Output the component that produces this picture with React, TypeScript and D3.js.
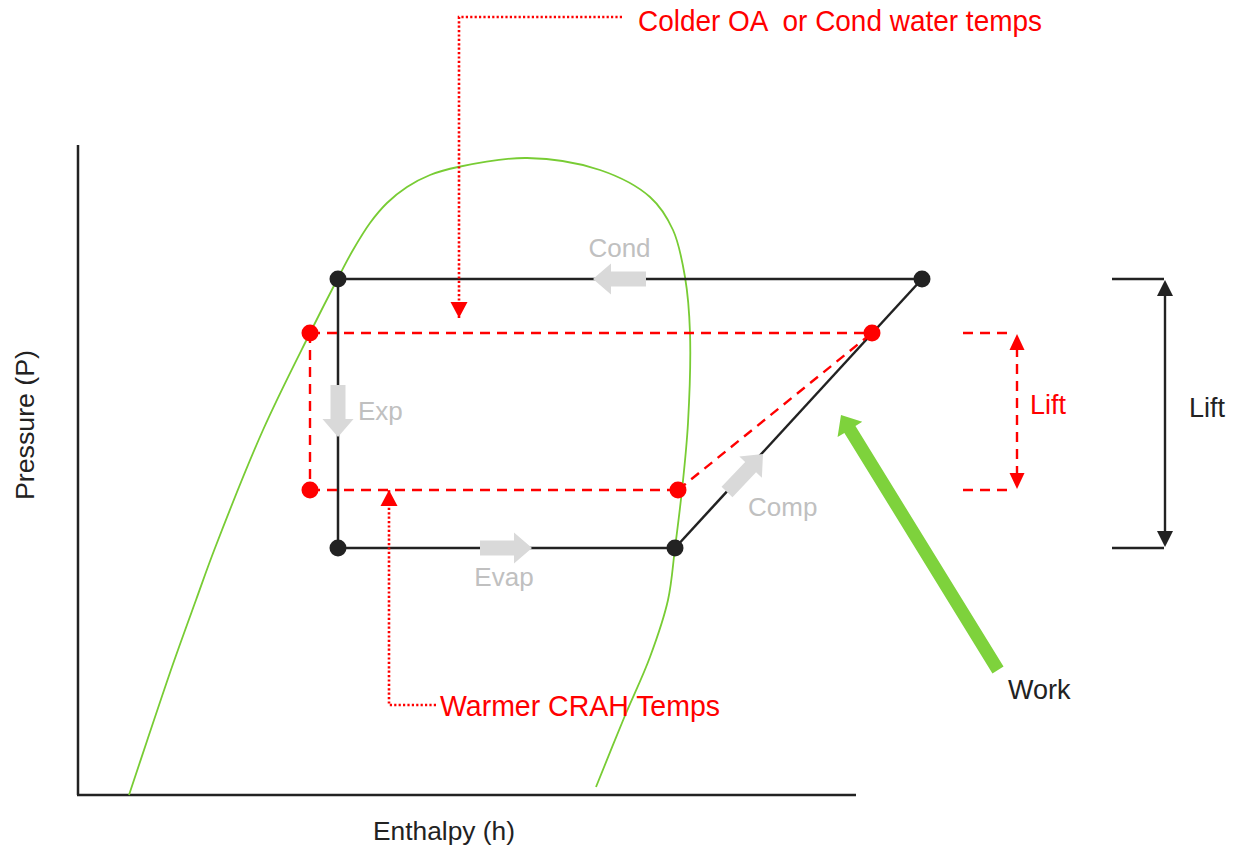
import React from "react";
import * as d3 from "d3";

// ---- Data (enthalpy units h, pressure units P) ----
const H_DOMAIN = [0, 778];
const P_DOMAIN = [0, 650];

// saturation dome (h, P)
const domeH = [51, 69, 95, 118, 137, 185, 232, 260, 275, 292, 309, 329, 352, 380, 449, 522, 572, 595, 607, 612, 610, 604, 597, 590, 572, 546, 518];
const domeP = [0, 54, 131, 195, 247, 365, 462, 517, 545, 572, 592, 608, 620, 628, 637, 625, 598, 565, 518, 462, 372, 305, 247, 195, 138, 77, 8];

// original cycle state points: condenser-in-left, condenser-out-right, evap-out, evap-in
const cycleH = [260, 844, 597, 260];
const cycleP = [516, 516, 247, 247];

// improved cycle (red)
const redH = [232, 794, 600, 232];
const redP = [462, 462, 305, 305];

// grey process arrows
const processNames = ["Cond", "Exp", "Evap", "Comp"];
const processFromH = [568, 260, 402, 649];
const processFromP = [516, 410, 247, 303];
const processToH = [515, 260, 454, 685];
const processToP = [516, 358, 247, 341];

// annotation callout polylines
const calloutTopH = [544, 381, 381];
const calloutTopP = [778, 778, 477];
const calloutBotH = [358, 311, 311];
const calloutBotP = [90, 90, 305];

// lift brackets
const liftRedH = [885, 934];
const liftBlackH = [1034, 1086];

// work arrow
const workH = [920, 763];
const workP = [125, 380];

const labels = {
  top: "Colder OA  or Cond water temps",
  bottom: "Warmer CRAH Temps",
  xAxis: "Enthalpy (h)",
  yAxis: "Pressure (P)",
  lift: "Lift",
  work: "Work",
};

const W = 1233;
const Hh = 848;

const x = d3.scaleLinear().domain(H_DOMAIN).range([78, 856]);
const y = d3.scaleLinear().domain(P_DOMAIN).range([795, 145]);

function arrowPoly(x1: number, y1: number, x2: number, y2: number, w: number, hw: number, hl: number) {
  const dx = x2 - x1, dy = y2 - y1;
  const L = Math.hypot(dx, dy);
  const ux = dx / L, uy = dy / L;
  const nx = -uy, ny = ux;
  const bx = x2 - ux * hl, by = y2 - uy * hl;
  const pts = [
    [x1 + nx * w / 2, y1 + ny * w / 2],
    [bx + nx * w / 2, by + ny * w / 2],
    [bx + nx * hw / 2, by + ny * hw / 2],
    [x2, y2],
    [bx - nx * hw / 2, by - ny * hw / 2],
    [bx - nx * w / 2, by - ny * w / 2],
    [x1 - nx * w / 2, y1 - ny * w / 2],
  ];
  return pts.map((p) => p.join(",")).join(" ");
}

function head(x2: number, y2: number, dirx: number, diry: number, hw: number, hl: number) {
  const L = Math.hypot(dirx, diry);
  const ux = dirx / L, uy = diry / L;
  const nx = -uy, ny = ux;
  const bx = x2 - ux * hl, by = y2 - uy * hl;
  return [
    [x2, y2],
    [bx + nx * hw / 2, by + ny * hw / 2],
    [bx - nx * hw / 2, by - ny * hw / 2],
  ].map((p) => p.join(",")).join(" ");
}

export default function App() {
  const domeLine = d3
    .line<number>()
    .x((_, i) => x(domeH[i]))
    .y((_, i) => y(domeP[i]))
    .curve(d3.curveCatmullRom.alpha(0.5));
  const domePath = domeLine(domeH) || "";

  const cx = cycleH.map((h) => x(h));
  const cy = cycleP.map((p) => y(p));
  const rx = redH.map((h) => x(h));
  const ry = redP.map((p) => y(p));

  const black = "#222222";
  const red = "#ff0000";
  const grey = "#d9d9d9";
  const greyText = "#c0c0c0";
  const green = "#7ed23c";
  const sans = "'Liberation Sans', Arial, sans-serif";

  const topPts = calloutTopH.map((h, i) => `${x(h)},${y(calloutTopP[i])}`).join(" ");
  const botPts = calloutBotH.map((h, i) => `${x(h)},${y(calloutBotP[i])}`).join(" ");

  const lrx0 = x(liftRedH[0]), lrx1 = x(liftRedH[1]);
  const lry0 = y(redP[0]), lry1 = y(redP[2]);
  const lbx0 = x(liftBlackH[0]), lbx1 = x(liftBlackH[1]);
  const lby0 = y(cycleP[0]), lby1 = y(cycleP[2]);

  const labelPos = [
    { dx: 0, dy: -31, anchor: "middle" },
    { dx: 20, dy: 0, anchor: "start" },
    { dx: -2, dy: 29, anchor: "middle" },
    { dx: 3, dy: 34, anchor: "start" },
  ];

  return (
    <div style={{ position: "absolute", left: 0, top: 0 }}>
      <svg width={W} height={Hh} style={{ display: "block", background: "#fff" }}>
        {/* axes */}
        <line x1={x(0)} y1={y(P_DOMAIN[1])} x2={x(0)} y2={y(0)} stroke={black} strokeWidth={2.5} />
        <line x1={x(0) - 1} y1={y(0)} x2={x(H_DOMAIN[1])} y2={y(0)} stroke={black} strokeWidth={2.5} />

        {/* dome */}
        <path d={domePath} fill="none" stroke="#78cc34" strokeWidth={1.8} />

        {/* black cycle */}
        <line x1={cx[0]} y1={cy[0]} x2={cx[1]} y2={cy[1]} stroke={black} strokeWidth={2.5} />
        <line x1={cx[1]} y1={cy[1]} x2={cx[2]} y2={cy[2]} stroke={black} strokeWidth={2.5} />
        <line x1={cx[2]} y1={cy[2]} x2={cx[3]} y2={cy[3]} stroke={black} strokeWidth={2.5} />
        <line x1={cx[3]} y1={cy[3]} x2={cx[0]} y2={cy[0]} stroke={black} strokeWidth={2.5} />

        {/* red cycle */}
        <g stroke={red} strokeWidth={2.4} strokeDasharray="10,7" fill="none">
          <line x1={rx[0]} y1={ry[0]} x2={rx[1]} y2={ry[1]} />
          <line x1={rx[2]} y1={ry[2]} x2={rx[1]} y2={ry[1]} />
          <line x1={rx[3]} y1={ry[3]} x2={rx[2]} y2={ry[2]} />
          <line x1={rx[0]} y1={ry[0]} x2={rx[3]} y2={ry[3]} />
        </g>

        {/* grey process arrows */}
        {processNames.map((n, i) => {
          const x1 = x(processFromH[i]), y1 = y(processFromP[i]);
          const x2 = x(processToH[i]), y2 = y(processToP[i]);
          const lp = labelPos[i];
          const mx = (x1 + x2) / 2, my = (y1 + y2) / 2;
          return (
            <g key={n}>
              <polygon points={arrowPoly(x1, y1, x2, y2, 15, 31, 18)} fill={grey} />
              <text
                x={mx + lp.dx}
                y={my + lp.dy}
                textAnchor={lp.anchor as any}
                dominantBaseline="central"
                fontFamily={sans}
                fontSize={26}
                fill={greyText}
              >
                {n}
              </text>
            </g>
          );
        })}

        {/* state points */}
        {cx.map((v, i) => (
          <circle key={"b" + i} cx={v} cy={cy[i]} r={8.5} fill={black} />
        ))}
        {rx.map((v, i) => (
          <circle key={"r" + i} cx={v} cy={ry[i]} r={8.5} fill={red} />
        ))}

        {/* callouts */}
        <polyline points={topPts} fill="none" stroke={red} strokeWidth={2.6} strokeDasharray="2.2,2.2" />
        <polygon points={head(x(calloutTopH[2]), y(calloutTopP[2]), 0, 1, 17, 16)} fill={red} />
        <text x={638} y={20} fontFamily={sans} fontSize={30} fill={red} dominantBaseline="central" textLength={404} lengthAdjust="spacingAndGlyphs" style={{ whiteSpace: "pre" }}>
          {labels.top}
        </text>
        <polyline points={botPts} fill="none" stroke={red} strokeWidth={2.6} strokeDasharray="2.2,2.2" />
        <polygon points={head(x(calloutBotH[2]), y(calloutBotP[2]), 0, -1, 17, 16)} fill={red} />
        <text x={440} y={705} fontFamily={sans} fontSize={30} fill={red} dominantBaseline="central" textLength={280} lengthAdjust="spacingAndGlyphs">
          {labels.bottom}
        </text>

        {/* red lift bracket */}
        <g stroke={red} strokeWidth={2.4} strokeDasharray="10,7">
          <line x1={lrx0} y1={lry0} x2={lrx1} y2={lry0} />
          <line x1={lrx0} y1={lry1} x2={lrx1} y2={lry1} />
          <line x1={lrx1 + 5} y1={lry0 + 14} x2={lrx1 + 5} y2={lry1 - 14} />
        </g>
        <polygon points={head(lrx1 + 5, lry0 + 1, 0, -1, 15, 16)} fill={red} />
        <polygon points={head(lrx1 + 5, lry1 - 1, 0, 1, 15, 16)} fill={red} />
        <text x={1030} y={405} fontFamily={sans} fontSize={27} fill={red} dominantBaseline="central">
          {labels.lift}
        </text>

        {/* black lift bracket */}
        <line x1={lbx0} y1={lby0} x2={lbx1} y2={lby0} stroke={black} strokeWidth={2.4} />
        <line x1={lbx0} y1={lby1} x2={lbx1} y2={lby1} stroke={black} strokeWidth={2.4} />
        <line x1={lbx1 + 1} y1={lby0 + 10} x2={lbx1 + 1} y2={lby1 - 10} stroke={black} strokeWidth={2.4} />
        <polygon points={head(lbx1 + 1, lby0 + 1, 0, -1, 16, 16)} fill={black} />
        <polygon points={head(lbx1 + 1, lby1 - 1, 0, 1, 16, 16)} fill={black} />
        <text x={1189} y={408} fontFamily={sans} fontSize={27} fill={black} dominantBaseline="central">
          {labels.lift}
        </text>

        {/* work arrow */}
        <polygon points={arrowPoly(x(workH[0]), y(workP[0]), x(workH[1]), y(workP[1]), 13, 29, 17)} fill={green} />
        <text x={1008} y={690} fontFamily={sans} fontSize={27} fill={black} dominantBaseline="central">
          {labels.work}
        </text>

        {/* axis titles */}
        <text x={444} y={831} fontFamily={sans} fontSize={26} fill={black} textAnchor="middle" dominantBaseline="central" textLength={142} lengthAdjust="spacingAndGlyphs">
          {labels.xAxis}
        </text>
        <text
          transform="translate(25,425) rotate(-90)"
          fontFamily={sans}
          fontSize={26}
          fill={black}
          textAnchor="middle"
          dominantBaseline="central"
          textLength={150}
          lengthAdjust="spacingAndGlyphs"
        >
          {labels.yAxis}
        </text>
      </svg>
    </div>
  );
}
